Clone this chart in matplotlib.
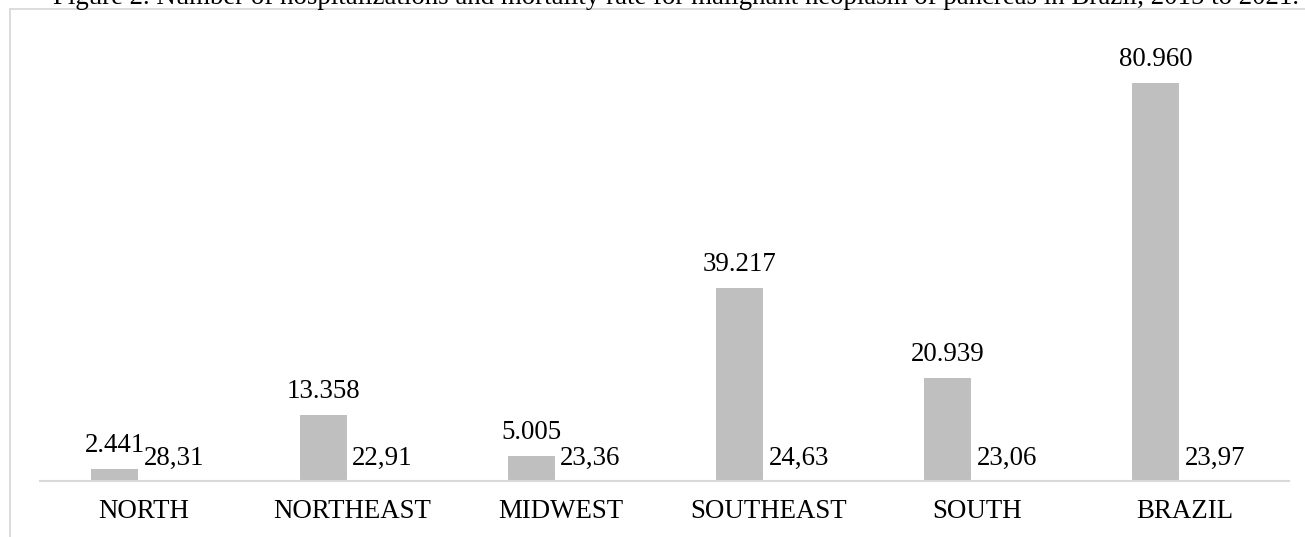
import matplotlib
matplotlib.use("Agg")
import matplotlib.pyplot as plt
from matplotlib.patches import Rectangle
import numpy as np

plt.rcParams['font.family'] = ['Liberation Serif', 'DejaVu Serif']

regions = ['NORTH', 'NORTHEAST', 'MIDWEST', 'SOUTHEAST', 'SOUTH', 'BRAZIL']
hospitalizations = [2441, 13358, 5005, 39217, 20939, 80960]
hosp_labels = ['2.441', '13.358', '5.005', '39.217', '20.939', '80.960']
mortality = [28.31, 22.91, 23.36, 24.63, 23.06, 23.97]
mort_labels = ['28,31', '22,91', '23,36', '24,63', '23,06', '23,97']
title = ('Figure 2. Number of hospitalizations and mortality rate for malignant '
         'neoplasm of pancreas in Brazil, 2015 to 2021.')

W, H = 1305, 537
fig = plt.figure(figsize=(W / 100, H / 100), dpi=100)

# light grey frame round the chart (runs off the right and bottom edges)
fig.patches.append(Rectangle((10 / W, -0.1), 1.2, 1.1 - 9 / H, transform=fig.transFigure,
                             fill=False, edgecolor='#d9d9d9', linewidth=1.3))

ax = fig.add_axes([40 / W, (H - 481) / H, 1249 / W, (481 - 39) / H])
x = np.arange(len(regions))
w = 0.226
shift = -0.027
ax.bar(x + shift - w / 2, hospitalizations, width=w, color='#bfbfbf')
ax.bar(x + shift + w / 2, mortality, width=w, color='#bfbfbf')

fs = 19.4
for xi, v, lab in zip(x, hospitalizations, hosp_labels):
    ax.annotate(lab, (xi + shift - w / 2, v), xytext=(0, 12.2), textcoords='offset points',
                ha='center', va='baseline', fontsize=fs)
for xi, v, lab in zip(x, mortality, mort_labels):
    ax.annotate(lab, (xi + shift, v), xytext=(4, 11.5), textcoords='offset points',
                ha='left', va='baseline', fontsize=fs)

ax.set_xlim(-0.5, len(regions) - 0.5)
ax.set_ylim(0, 90000)
ax.set_xticks(x)
ax.set_xticklabels(regions, fontsize=fs)
ax.tick_params(axis='x', length=0, pad=13)
ax.set_yticks([])
for s in ['top', 'right', 'left']:
    ax.spines[s].set_visible(False)
ax.spines['bottom'].set_color('#d9d9d9')
ax.spines['bottom'].set_linewidth(1.5)

fig.text(0.518, 1 - 4 / H, title, ha='center', va='baseline', fontsize=fs)

fig.savefig('out.png', dpi=100)
